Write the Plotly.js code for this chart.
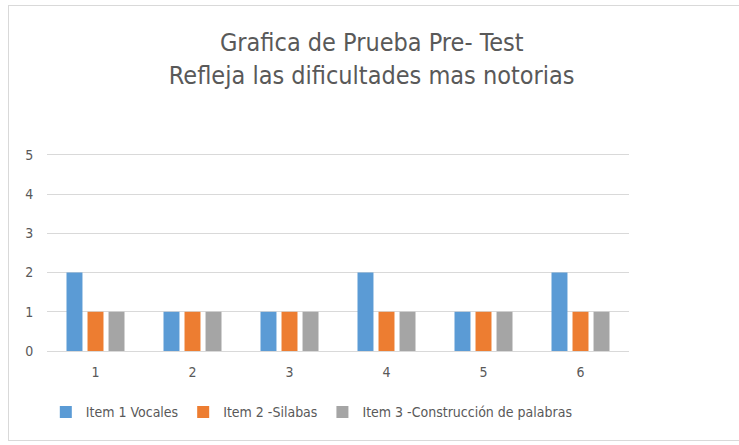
<!DOCTYPE html>
<html><head><meta charset="utf-8">
<script src="https://cdn.plot.ly/plotly-3.0.1.min.js"></script>
<style>body{margin:0;background:#fff}#frame{position:absolute;left:8px;top:5px;width:740px;height:434px;border-top:1px solid #d9d9d9;border-left:1px solid #d9d9d9;border-bottom:1px solid #d9d9d9;pointer-events:none}</style>
</head><body>
<div id="chart" style="width:739px;height:445px"></div>
<div id="frame"></div>
<script>
const categories = ['1','2','3','4','5','6'];
const item1 = [2,1,1,2,1,2];
const item2 = [1,1,1,1,1,1];
const item3 = [1,1,1,1,1,1];
const names = ['Item 1 Vocales','Item 2 -Silabas','Item 3 -Construcción de palabras'];
const colors = ['#5B9BD5','#ED7D31','#A5A5A5'];
const font = "'DejaVu Sans Condensed','DejaVu Sans',sans-serif";
const data = [item1,item2,item3].map((v,i)=>({type:'bar',x:categories,y:v,name:names[i],marker:{color:colors[i]}}));
const layout = {
  width:739,height:445,
  margin:{l:47,r:110,t:153,b:94},
  paper_bgcolor:'#fff',plot_bgcolor:'#fff',
  font:{family:font,color:'#595959',size:13},
  title:{text:'Grafica de Prueba Pre- Test<br>Refleja las dificultades mas notorias',x:0.503,xanchor:'center',y:0.885,yanchor:'middle',font:{family:font,size:25,color:'#595959'}},
  barmode:'group',bargap:0.35,bargroupgap:0.24,
  xaxis:{type:'category',showgrid:false,showline:true,linecolor:'#d9d9d9',ticks:'outside',ticklen:8,tickcolor:'rgba(0,0,0,0)',tickfont:{size:14,color:'#595959'}},
  yaxis:{range:[0,5.05],tickvals:[0,1,2,3,4,5],gridcolor:'#d9d9d9',zeroline:false,ticks:'outside',ticklen:10,tickcolor:'rgba(0,0,0,0)',tickfont:{size:14,color:'#595959'}},
  legend:{orientation:'h',x:0.455,xanchor:'center',y:-0.31,yanchor:'middle',font:{size:14,color:'#595959'},itemwidth:30,traceorder:'normal'},
  showlegend:true
};
Plotly.newPlot('chart',data,layout,{displayModeBar:false,staticPlot:true});
</script>
</body></html>
